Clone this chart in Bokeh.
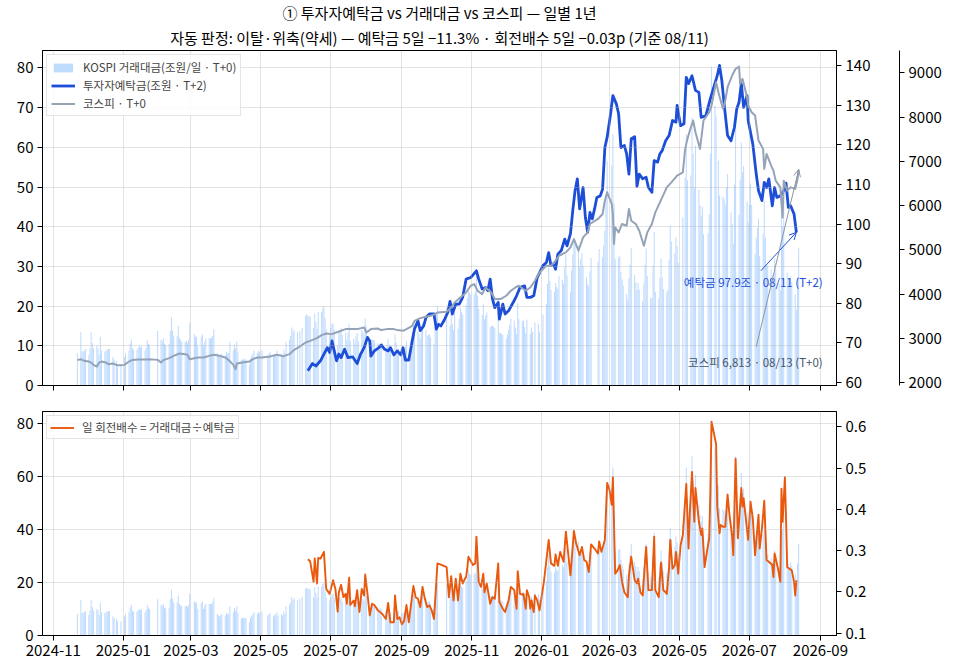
from datetime import datetime
import pandas as pd
from bokeh.plotting import figure
from bokeh.models import (Range1d, LinearAxis, FixedTicker, DatetimeTickFormatter, Title, Label,
                          Arrow, OpenHead, Legend, LegendItem, ColumnDataSource)
from bokeh.layouts import column
from bokeh.embed import file_html
from bokeh.resources import INLINE

FONT = "Noto Sans CJK KR"

# ---------------- data ----------------
title_line1 = "① 투자자예탁금 vs 거래대금 vs 코스피 — 일별 1년"
title_line2 = "자동 판정: 이탈·위축(약세) — 예탁금 5일 −11.3% · 회전배수 5일 −0.03p (기준 08/11)"

# daily KOSPI trading value (조원), one row per week Mon..Fri, None = no trading
vol_week_start = "2024-11-18"
vol_weeks = [
    [None, None, None, None, 8.1],
    [13.5, 8.6, 8.5, 8.8, 9.2],
    [7.7, 9.4, 13.5, 10.7, 9.4],
    [10.0, 9.4, 7.7, 12.3, 8.8],
    [8.5, 8.8, 9.0, 9.2, 9.2],
    [7.2, 6.6, None, 6.2, 5.4],
    [5.4, None, None, 7.2, 8.1],
    [8.8, 10.5, 11.6, 9.4, 9.0],
    [9.0, 9.5, 10.0, 9.6, 9.8],
    [8.8, 9.5, 11.4, 10.5, 10.0],
    [None, None, None, None, 13.7],
    [11.6, 11.1, 11.9, 10.5, 10.2],
    [10.5, 13.7, 17.2, 13.9, 12.4],
    [12.4, 15.0, 12.0, 11.4, 11.0],
    [11.0, 11.2, 10.8, 11.5, 15.7],
    [None, 13.0, 12.3, 12.3, 10.0],
    [12.3, 12.9, 10.0, 11.0, 11.9],
    [11.9, 11.9, 12.0, 12.5, 14.2],
    [8.1, 7.5, 7.2, 7.8, 8.0],
    [7.5, 8.5, 8.0, 8.2, 11.0],
    [8.8, 10.3, 9.4, 11.1, 8.5],
    [6.5, 6.5, 6.8, 6.5, 6.6],
    [5.2, 6.8, 7.5, 8.0, 8.8],
    [8.2, 8.8, 8.5, None, 9.0],
    [None, None, 7.5, 8.0, 8.5],
    [7.2, 8.0, 7.5, 8.8, 7.5],
    [8.0, 7.5, 9.0, 8.2, 11.0],
    [11.5, 12.5, 14.6, 13.4, 14.0],
    [13.4, None, 13.8, None, 14.5],
    [17.6, 18.0, 17.5, 17.6, 17.3],
    [14.5, 18.1, 16.0, 14.2, 18.5],
    [18.5, 19.4, 20.0, 17.0, 14.2],
    [13.2, 14.5, 15.5, 15.7, 14.1],
    [10.0, 13.4, 14.0, 14.4, 12.7],
    [13.3, 11.5, 13.3, 15.5, 11.2],
    [11.8, 10.8, 12.4, 13.2, 11.2],
    [14.0, 13.6, 13.1, 16.9, 14.9],
    [10.0, 10.7, 11.5, 11.5, 11.4],
    [10.6, 10.3, 10.2, 10.1, None],
    [9.1, 10.2, 11.8, 10.3, 8.7],
    [8.4, 12.9, 10.8, 9.1, 9.2],
    [8.2, 8.6, 8.7, 9.9, 11.0],
    [8.3, 11.4, 13.4, 15.4, 14.7],
    [13.8, 12.9, 11.9, 14.0, 15.8],
    [14.0, 12.5, 12.7, 12.9, 12.0],
    [10.4, 14.7, 18.5, 20.0, None],
    [None, None, None, None, 19.5],
    [15.0, 18.8, 15.5, 14.0, 18.5],
    [14.3, 16.8, 19.6, 18.6, 17.9],
    [20.3, 22.0, 24.6, 23.3, 22.9],
    [23.0, 23.6, 29.5, 22.6, 19.3],
    [17.7, 20.4, 16.7, 17.6, 18.4],
    [14.7, 14.9, 15.2, 14.8, 14.4],
    [21.6, 13.3, 13.2, 13.0, 12.7],
    [11.7, 12.8, 14.0, 15.3, 16.8],
    [16.4, 14.6, 13.0, 20.7, 16.7],
    [16.2, 16.4, 14.8, 13.2, 16.6],
    [13.0, 14.6, 13.5, None, 15.9],
    [15.6, 13.6, None, None, 17.9],
    [20.6, 25.6, 30.3, 26.4, 24.1],
    [23.6, 25.8, 24.9, 24.3, 27.5],
    [26.6, 25.7, 29.8, 33.0, 27.7],
    [23.4, 29.0, 33.0, 36.9, 35.8],
    [35.3, 30.0, 31.8, 33.4, 30.2],
    [27.3, 25.5, 24.9, 28.8, 32.1],
    [None, None, None, 31.1, 34.4],
    [32.3, 35.3, 38.9, 48.2, 56.6],
    [None, 55.5, 63.3, 46.0, 31.8],
    [32.2, 32.6, 28.6, 26.8, 25.1],
    [23.0, 21.5, 27.0, 30.4, 34.6],
    [27.8, 26.1, 24.1, 25.8, 24.2],
    [21.3, 25.7, 30.5, 34.5, 27.5],
    [22.1, 22.0, 30.2, 38.7, 23.6],
    [21.9, 27.0, 32.0, 27.3, 24.3],
    [23.5, 24.2, 31.6, 40.3, 36.3],
    [33.4, 37.3, 35.1, 31.0, None],
    [42.3, None, 52.4, 63.3, 51.7],
    [53.0, 67.5, 58.3, 49.8, 60.4],
    [49.3, 45.5, 42.9, 45.0, 38.1],
    [None, 38.3, 43.1, 58.4, 80.3],
    [70.5, 68.0, None, 56.6, 47.9],
    [47.6, 46.9, 45.6, 50.0, 53.3],
    [43.6, 40.7, 35.7, 50.6, 67.5],
    [43.1, 51.9, 61.2, 53.7, 55.3],
    [46.3, 41.1, 45.5, 50.9, 45.4],
    [33.2, 37.2, 39.6, 42.0, 32.6],
    [38.2, 46.5, 37.3, 30.2, 30.3],
    [29.2, 27.7, 25.3, 32.0, 29.2],
    [25.7, 24.0, 48.5, 40.0, 51.8],
    [28.5, 26.9, 25.0, 27.5, 26.1],
    [23.0, 19.1, 27.0, 34.6, None],
]

kospi_dates = [
    "2024-11-22", "2024-11-25", "2024-11-28", "2024-12-02", "2024-12-04", "2024-12-06", "2024-12-09",
    "2024-12-11", "2024-12-13", "2024-12-17", "2024-12-19", "2024-12-23", "2024-12-26", "2024-12-30",
    "2025-01-02", "2025-01-06", "2025-01-09", "2025-01-14", "2025-01-20", "2025-01-24", "2025-01-31",
    "2025-02-03", "2025-02-05", "2025-02-10", "2025-02-14", "2025-02-19", "2025-02-24", "2025-02-26",
    "2025-02-28", "2025-03-04", "2025-03-07", "2025-03-12", "2025-03-17", "2025-03-21", "2025-03-26",
    "2025-03-31", "2025-04-03", "2025-04-07", "2025-04-09", "2025-04-10", "2025-04-15", "2025-04-21",
    "2025-04-24", "2025-04-28", "2025-05-02", "2025-05-09", "2025-05-15", "2025-05-21", "2025-05-26",
    "2025-05-30", "2025-06-04", "2025-06-09", "2025-06-13", "2025-06-19", "2025-06-23", "2025-06-27",
    "2025-07-02", "2025-07-08", "2025-07-14", "2025-07-18", "2025-07-24", "2025-07-30", "2025-08-01",
    "2025-08-05", "2025-08-11", "2025-08-14", "2025-08-19", "2025-08-25", "2025-08-28", "2025-09-02",
    "2025-09-05", "2025-09-10", "2025-09-12", "2025-09-17", "2025-09-22", "2025-09-26", "2025-09-30",
    "2025-10-02", "2025-10-10", "2025-10-14", "2025-10-17", "2025-10-22", "2025-10-27", "2025-10-31",
    "2025-11-03", "2025-11-06", "2025-11-10", "2025-11-13", "2025-11-18", "2025-11-21", "2025-11-26",
    "2025-12-01", "2025-12-05", "2025-12-09", "2025-12-12", "2025-12-18", "2025-12-22", "2025-12-26",
    "2025-12-30", "2026-01-05", "2026-01-09", "2026-01-13", "2026-01-16", "2026-01-22", "2026-01-26",
    "2026-01-29", "2026-02-02", "2026-02-04", "2026-02-06", "2026-02-10", "2026-02-12", "2026-02-19",
    "2026-02-23", "2026-02-25", "2026-02-27", "2026-03-03", "2026-03-04", "2026-03-05", "2026-03-06",
    "2026-03-09", "2026-03-12", "2026-03-16", "2026-03-18", "2026-03-20", "2026-03-24", "2026-03-27",
    "2026-03-31", "2026-04-03", "2026-04-07", "2026-04-10", "2026-04-16", "2026-04-20", "2026-04-24",
    "2026-04-29", "2026-05-04", "2026-05-06", "2026-05-08", "2026-05-11", "2026-05-13", "2026-05-15",
    "2026-05-19", "2026-05-22", "2026-05-27", "2026-05-29", "2026-06-02", "2026-06-04", "2026-06-08",
    "2026-06-10", "2026-06-12", "2026-06-16", "2026-06-19", "2026-06-22", "2026-06-23", "2026-06-25",
    "2026-06-29", "2026-06-30", "2026-07-03", "2026-07-06", "2026-07-09", "2026-07-13", "2026-07-14",
    "2026-07-16", "2026-07-20", "2026-07-22", "2026-07-24", "2026-07-28", "2026-07-30", "2026-07-31",
    "2026-08-03", "2026-08-06", "2026-08-10", "2026-08-12", "2026-08-13",
]
kospi_vals = [
    2507, 2529, 2491, 2475, 2452, 2400, 2362, 2452, 2475, 2452, 2416, 2430, 2400, 2394,
    2400, 2475, 2513, 2520, 2520, 2529, 2513, 2452, 2507, 2552, 2604, 2656, 2642, 2627,
    2529, 2552, 2566, 2566, 2604, 2627, 2604, 2566, 2507, 2400, 2303, 2430, 2452, 2475,
    2529, 2566, 2566, 2588, 2627, 2597, 2642, 2740, 2815, 2905, 2943, 3005, 3072, 3109,
    3095, 3154, 3208, 3208, 3208, 3244, 3131, 3208, 3222, 3186, 3208, 3208, 3186, 3170,
    3208, 3283, 3396, 3457, 3486, 3509, 3548, 3584, 3600, 3697, 3810, 3923, 4036, 4188,
    4226, 4075, 4000, 4149, 4036, 3887, 3887, 3962, 4075, 4149, 4188, 4075, 4149, 4301,
    4489, 4640, 4640, 4753, 4866, 4941, 5054, 5244, 4980, 5131, 5281, 5394, 5584, 5697,
    5810, 6111, 6299, 6036, 5810, 5131, 5507, 5394, 5584, 5545, 5923, 5658, 5584, 5432,
    5093, 5394, 5584, 5846, 6186, 6412, 6525, 6676, 6751, 7281, 7507, 7769, 7921, 7656,
    7281, 7921, 8109, 8260, 8787, 8561, 8186, 8373, 8674, 8939, 9090, 9142, 8751, 8864,
    8448, 8260, 8109, 8034, 7468, 7281, 6828, 7167, 6903, 6790, 6563, 6412, 5733, 6563,
    6337, 6412, 6376, 6602, 6813,
]

dep_dates = [
    "2025-06-11", "2025-06-15", "2025-06-18", "2025-06-22", "2025-06-25", "2025-06-28", "2025-06-30",
    "2025-07-02", "2025-07-04", "2025-07-06", "2025-07-08", "2025-07-10", "2025-07-13", "2025-07-16",
    "2025-07-20", "2025-07-24", "2025-07-27", "2025-07-30", "2025-08-02", "2025-08-04", "2025-08-05",
    "2025-08-08", "2025-08-12", "2025-08-14", "2025-08-17", "2025-08-20", "2025-08-22", "2025-08-25",
    "2025-08-28", "2025-08-31", "2025-09-02", "2025-09-04", "2025-09-07", "2025-09-10", "2025-09-12",
    "2025-09-15", "2025-09-17", "2025-09-20", "2025-09-22", "2025-09-25", "2025-09-29", "2025-10-01",
    "2025-10-03", "2025-10-05", "2025-10-08", "2025-10-11", "2025-10-13", "2025-10-15", "2025-10-18",
    "2025-10-21", "2025-10-24", "2025-10-27", "2025-10-31", "2025-11-05", "2025-11-07", "2025-11-10",
    "2025-11-13", "2025-11-15", "2025-11-17", "2025-11-19", "2025-11-21", "2025-11-24", "2025-11-25",
    "2025-11-28", "2025-11-30", "2025-12-03", "2025-12-07", "2025-12-10", "2025-12-13", "2025-12-17",
    "2025-12-19", "2025-12-22", "2025-12-25", "2025-12-28", "2026-01-02", "2026-01-05", "2026-01-07",
    "2026-01-09", "2026-01-11", "2026-01-13", "2026-01-15", "2026-01-18", "2026-01-21", "2026-01-23",
    "2026-01-26", "2026-01-28", "2026-01-30", "2026-02-01", "2026-02-03", "2026-02-06", "2026-02-08",
    "2026-02-10", "2026-02-12", "2026-02-14", "2026-02-16", "2026-02-18", "2026-02-21", "2026-02-23",
    "2026-02-25", "2026-02-27", "2026-03-02", "2026-03-04", "2026-03-07", "2026-03-09", "2026-03-11",
    "2026-03-14", "2026-03-16", "2026-03-18", "2026-03-20", "2026-03-23", "2026-03-25", "2026-03-27",
    "2026-03-30", "2026-04-02", "2026-04-04", "2026-04-07", "2026-04-09", "2026-04-12", "2026-04-14",
    "2026-04-16", "2026-04-19", "2026-04-22", "2026-04-25", "2026-04-28", "2026-04-29", "2026-05-02",
    "2026-05-05", "2026-05-07", "2026-05-09", "2026-05-12", "2026-05-15", "2026-05-18", "2026-05-20",
    "2026-05-24", "2026-05-28", "2026-05-31", "2026-06-03", "2026-06-05", "2026-06-07", "2026-06-09",
    "2026-06-12", "2026-06-15", "2026-06-18", "2026-06-20", "2026-06-22", "2026-06-24", "2026-06-26",
    "2026-06-29", "2026-06-30", "2026-07-04", "2026-07-07", "2026-07-09", "2026-07-12", "2026-07-14",
    "2026-07-16", "2026-07-18", "2026-07-21", "2026-07-23", "2026-07-25", "2026-07-28", "2026-07-31",
    "2026-08-02", "2026-08-04", "2026-08-06", "2026-08-09", "2026-08-11",
]
dep_vals = [
    63.0, 64.8, 64.2, 65.5, 67.2, 68.8, 67.6, 70.5, 68.0, 65.5, 67.2, 66.3, 68.4, 66.3,
    66.5, 64.8, 67.2, 68.8, 71.4, 70.5, 66.7, 68.0, 68.8, 69.5, 68.4, 68.0, 68.8, 67.0,
    68.0, 67.0, 68.8, 65.7, 65.7, 70.5, 73.5, 75.6, 73.1, 74.3, 76.4, 77.3, 77.3, 73.5,
    74.7, 74.3, 75.8, 77.7, 80.5, 77.3, 79.8, 79.8, 81.5, 86.1, 86.5, 88.2, 86.1, 83.6,
    84.0, 83.2, 86.1, 81.1, 78.9, 80.2, 76.0, 79.8, 77.3, 78.1, 80.2, 81.9, 84.0, 84.4,
    81.5, 81.5, 81.9, 86.5, 89.5, 90.3, 92.8, 89.5, 89.9, 88.6, 92.4, 93.3, 96.2, 94.5,
    97.6, 103.4, 108.4, 111.4, 103.8, 109.2, 101.7, 97.9, 102.9, 101.3, 103.8, 106.7, 107.1, 108.8,
    119.3, 121.9, 127.8, 132.4, 130.3, 127.8, 119.3, 119.8, 117.7, 112.6, 121.5, 122.0, 109.5, 112.6,
    111.4, 111.8, 109.2, 108.0, 116.0, 115.6, 117.7, 118.5, 121.0, 122.3, 126.1, 125.7, 129.9, 124.8,
    125.3, 137.0, 135.4, 137.4, 133.7, 133.2, 126.9, 127.3, 131.6, 134.5, 137.4, 140.0, 136.2, 130.3,
    122.3, 121.0, 124.4, 129.0, 130.7, 135.4, 129.4, 132.4, 126.1, 120.2, 112.6, 108.4, 105.9, 110.5,
    109.2, 111.4, 104.6, 109.2, 106.7, 107.1, 108.4, 110.3, 104.2, 104.6, 102.5, 97.9,
]

ratio_dates = [
    "2025-06-11", "2025-06-13", "2025-06-16", "2025-06-17", "2025-06-19", "2025-06-20", "2025-06-22",
    "2025-06-25", "2025-06-27", "2025-06-30", "2025-07-03", "2025-07-05", "2025-07-07", "2025-07-08",
    "2025-07-10", "2025-07-12", "2025-07-14", "2025-07-15", "2025-07-17", "2025-07-18", "2025-07-21",
    "2025-07-22", "2025-07-24", "2025-07-26", "2025-07-28", "2025-07-30", "2025-07-31", "2025-08-02",
    "2025-08-04", "2025-08-06", "2025-08-08", "2025-08-11", "2025-08-15", "2025-08-18", "2025-08-20",
    "2025-08-22", "2025-08-25", "2025-08-26", "2025-08-28", "2025-08-30", "2025-09-01", "2025-09-03",
    "2025-09-05", "2025-09-07", "2025-09-11", "2025-09-13", "2025-09-15", "2025-09-17", "2025-09-19",
    "2025-09-21", "2025-09-23", "2025-09-25", "2025-09-27", "2025-09-29", "2025-10-02", "2025-10-05",
    "2025-10-10", "2025-10-12", "2025-10-14", "2025-10-16", "2025-10-18", "2025-10-20", "2025-10-22",
    "2025-10-24", "2025-10-26", "2025-10-27", "2025-10-28", "2025-10-29", "2025-11-02", "2025-11-04",
    "2025-11-05", "2025-11-07", "2025-11-09", "2025-11-11", "2025-11-12", "2025-11-14", "2025-11-17",
    "2025-11-19", "2025-11-21", "2025-11-24", "2025-11-25", "2025-11-28", "2025-11-30", "2025-12-03",
    "2025-12-05", "2025-12-08", "2025-12-10", "2025-12-11", "2025-12-13", "2025-12-15", "2025-12-16",
    "2025-12-18", "2025-12-19", "2025-12-21", "2025-12-22", "2025-12-23", "2025-12-25", "2025-12-26",
    "2025-12-28", "2025-12-30", "2026-01-03", "2026-01-07", "2026-01-09", "2026-01-12", "2026-01-13",
    "2026-01-15", "2026-01-17", "2026-01-20", "2026-01-22", "2026-01-24", "2026-01-26", "2026-01-29",
    "2026-01-31", "2026-02-03", "2026-02-05", "2026-02-07", "2026-02-09", "2026-02-11", "2026-02-13",
    "2026-02-16", "2026-02-19", "2026-02-20", "2026-02-22", "2026-02-25", "2026-02-27", "2026-03-01",
    "2026-03-03", "2026-03-04", "2026-03-06", "2026-03-08", "2026-03-10", "2026-03-12", "2026-03-14",
    "2026-03-17", "2026-03-18", "2026-03-20", "2026-03-23", "2026-03-25", "2026-03-26", "2026-03-28",
    "2026-03-30", "2026-04-01", "2026-04-02", "2026-04-04", "2026-04-07", "2026-04-09", "2026-04-10",
    "2026-04-13", "2026-04-15", "2026-04-17", "2026-04-19", "2026-04-20", "2026-04-22", "2026-04-23",
    "2026-04-25", "2026-04-27", "2026-04-28", "2026-04-30", "2026-05-02", "2026-05-04", "2026-05-07",
    "2026-05-09", "2026-05-10", "2026-05-12", "2026-05-14", "2026-05-15", "2026-05-18", "2026-05-20",
    "2026-05-21", "2026-05-23", "2026-05-25", "2026-05-27", "2026-05-28", "2026-05-29", "2026-05-31",
    "2026-06-02", "2026-06-03", "2026-06-05", "2026-06-06", "2026-06-08", "2026-06-10", "2026-06-12",
    "2026-06-14", "2026-06-16", "2026-06-17", "2026-06-19", "2026-06-21", "2026-06-24", "2026-06-25",
    "2026-06-26", "2026-06-29", "2026-06-30", "2026-07-02", "2026-07-04", "2026-07-06", "2026-07-09",
    "2026-07-10", "2026-07-12", "2026-07-14", "2026-07-16", "2026-07-18", "2026-07-21", "2026-07-22",
    "2026-07-23", "2026-07-26", "2026-07-28", "2026-07-29", "2026-07-30", "2026-08-01", "2026-08-02",
    "2026-08-03", "2026-08-05", "2026-08-07", "2026-08-09", "2026-08-10", "2026-08-11",
]
ratio_vals = [
    0.279, 0.274, 0.224, 0.281, 0.220, 0.282, 0.281, 0.297, 0.207, 0.195, 0.228, 0.207, 0.152, 0.199,
    0.217, 0.187, 0.195, 0.171, 0.234, 0.168, 0.179, 0.165, 0.204, 0.151, 0.207, 0.191, 0.242, 0.195,
    0.143, 0.171, 0.168, 0.155, 0.146, 0.134, 0.173, 0.126, 0.126, 0.191, 0.134, 0.138, 0.121, 0.130,
    0.168, 0.126, 0.214, 0.187, 0.183, 0.163, 0.212, 0.183, 0.163, 0.167, 0.155, 0.134, 0.269, 0.266,
    0.260, 0.187, 0.238, 0.179, 0.232, 0.179, 0.244, 0.220, 0.232, 0.236, 0.256, 0.285, 0.265, 0.269,
    0.334, 0.224, 0.212, 0.244, 0.199, 0.220, 0.171, 0.187, 0.183, 0.269, 0.175, 0.159, 0.151, 0.179,
    0.212, 0.204, 0.159, 0.250, 0.195, 0.193, 0.195, 0.159, 0.204, 0.187, 0.159, 0.179, 0.151, 0.191,
    0.179, 0.155, 0.228, 0.326, 0.269, 0.263, 0.291, 0.263, 0.297, 0.273, 0.346, 0.293, 0.240, 0.348,
    0.317, 0.289, 0.309, 0.277, 0.273, 0.248, 0.315, 0.305, 0.293, 0.322, 0.297, 0.326, 0.464, 0.448,
    0.411, 0.478, 0.244, 0.252, 0.265, 0.224, 0.199, 0.187, 0.240, 0.285, 0.228, 0.220, 0.232, 0.199,
    0.191, 0.273, 0.309, 0.204, 0.204, 0.334, 0.204, 0.187, 0.271, 0.204, 0.199, 0.195, 0.258, 0.326,
    0.256, 0.265, 0.297, 0.244, 0.313, 0.338, 0.462, 0.305, 0.387, 0.491, 0.370, 0.452, 0.370, 0.338,
    0.354, 0.260, 0.297, 0.330, 0.444, 0.613, 0.586, 0.558, 0.407, 0.342, 0.362, 0.358, 0.358, 0.436,
    0.378, 0.334, 0.289, 0.523, 0.330, 0.452, 0.407, 0.427, 0.350, 0.326, 0.419, 0.378, 0.289, 0.387,
    0.305, 0.354, 0.421, 0.277, 0.273, 0.265, 0.236, 0.293, 0.256, 0.224, 0.450, 0.370, 0.478, 0.378,
    0.260, 0.256, 0.252, 0.224, 0.191, 0.228,
]

tick_months = ["2024-11-01", "2025-01-01", "2025-03-01", "2025-05-01", "2025-07-01", "2025-09-01",
               "2025-11-01", "2026-01-01", "2026-03-01", "2026-05-01", "2026-07-01", "2026-09-01"]
left_ticks_top = [0, 10, 20, 30, 40, 50, 60, 70, 80]
left_ticks_bot = [0, 20, 40, 60, 80]
dep_ticks = [60, 70, 80, 90, 100, 110, 120, 130, 140]
kospi_ticks = [2000, 3000, 4000, 5000, 6000, 7000, 8000, 9000]
ratio_ticks = [0.1, 0.2, 0.3, 0.4, 0.5, 0.6]

# ---------------- build sources ----------------
start = pd.Timestamp(vol_week_start)
bar_d, bar_v = [], []
for i, wk in enumerate(vol_weeks):
    for j, v in enumerate(wk):
        if v is not None:
            bar_d.append(start + pd.Timedelta(days=7 * i + j))
            bar_v.append(v)
bar_src = ColumnDataSource(dict(date=bar_d, vol=bar_v))
kospi_src = ColumnDataSource(dict(date=pd.to_datetime(kospi_dates), v=kospi_vals))
dep_src = ColumnDataSource(dict(date=pd.to_datetime(dep_dates), v=dep_vals))
ratio_src = ColumnDataSource(dict(date=pd.to_datetime(ratio_dates), v=ratio_vals))

month_ms = [pd.Timestamp(t).timestamp() * 1000 for t in tick_months]

BAR_C = "#bfdbfe"
DEP_C = "#1d4ed8"
KOS_C = "#94a3b8"
RAT_C = "#ea580c"
DAY_MS = 86400000

xr = Range1d(start=datetime(2024, 10, 22, 14), end=datetime(2026, 9, 15))


def style_axis(ax, size="15px"):
    ax.axis_line_color = "black"
    ax.axis_line_width = 1
    ax.major_tick_line_color = "black"
    ax.major_tick_line_width = 1
    ax.major_tick_out = 5
    ax.major_tick_in = 0
    ax.minor_tick_line_color = None
    ax.major_label_text_font = FONT
    ax.major_label_text_font_size = size
    ax.major_label_text_color = "black"
    ax.major_label_standoff = 4


def style_fig(p, yticks):
    p.outline_line_color = "black"
    p.outline_line_width = 1
    p.xaxis.ticker = FixedTicker(ticks=month_ms)
    p.xaxis.formatter = DatetimeTickFormatter(days="%Y-%m", months="%Y-%m", years="%Y-%m")
    p.yaxis.ticker = FixedTicker(ticks=yticks)
    p.xgrid.ticker = FixedTicker(ticks=month_ms)
    p.ygrid.ticker = FixedTicker(ticks=yticks)
    for g in (p.xgrid, p.ygrid):
        g.grid_line_color = "#b0b0b0"
        g.grid_line_alpha = 0.35
        g.grid_line_width = 1
        g.level = "glyph"
    for ax in (p.xaxis + p.yaxis):
        style_axis(ax)


# ---------------- top panel ----------------
p1 = figure(x_axis_type="datetime", x_range=xr, y_range=Range1d(0, 84.4),
            frame_width=794, frame_height=335, output_backend="svg", toolbar_location=None,
            min_border_left=42, min_border_right=2, min_border_top=0, min_border_bottom=12)
p1.title.visible = False
style_fig(p1, left_ticks_top)
p1.xaxis.major_label_text_color = None
p1.xaxis.major_label_standoff = 0

p1.add_layout(Title(text=title_line2, align="center", text_font=FONT, text_font_size="15px",
                    text_font_style="normal", text_color="black", standoff=5), "above")
p1.add_layout(Title(text=title_line1, align="center", text_font=FONT, text_font_size="15px",
                    text_font_style="normal", text_color="black", standoff=-1), "above")

p1.extra_y_ranges = {"dep": Range1d(59.27, 143.76), "kospi": Range1d(1934, 9504)}
ax_dep = LinearAxis(y_range_name="dep", ticker=FixedTicker(ticks=dep_ticks), axis_label=" ",
                    axis_label_standoff=12, axis_label_text_font_size="10px")
style_axis(ax_dep)
p1.add_layout(ax_dep, "right")
ax_k = LinearAxis(y_range_name="kospi", ticker=FixedTicker(ticks=kospi_ticks))
style_axis(ax_k)
p1.add_layout(ax_k, "right")

r_bar1 = p1.vbar(x="date", top="vol", width=0.9 * DAY_MS, source=bar_src, fill_color=BAR_C,
                 line_color=None, level="underlay")
r_dep = p1.line(x="date", y="v", source=dep_src, y_range_name="dep", line_color=DEP_C,
                line_width=2.8, line_join="round")
r_kos = p1.line(x="date", y="v", source=kospi_src, y_range_name="kospi", line_color=KOS_C,
                line_width=2.0, line_join="round")

leg1 = Legend(items=[LegendItem(label="KOSPI 거래대금(조원/일 · T+0)", renderers=[r_bar1]),
                     LegendItem(label="투자자예탁금(조원 · T+2)", renderers=[r_dep]),
                     LegendItem(label="코스피 · T+0", renderers=[r_kos])],
              location="top_left", label_text_font=FONT, label_text_font_size="11.5px",
              border_line_color="#cccccc", border_line_width=1, background_fill_alpha=0.85,
              padding=4, spacing=2, margin=4, glyph_width=24, glyph_height=11,
              label_height=13, label_standoff=8)
p1.add_layout(leg1)

# annotations
p1.add_layout(Label(x=datetime(2026, 9, 3), y=85.4, y_range_name="dep",
                    text="예탁금 97.9조 · 08/11 (T+2)", text_align="right", text_baseline="middle",
                    text_font=FONT, text_font_size="11.5px", text_color=DEP_C))
p1.add_layout(Arrow(end=OpenHead(size=7, line_color=DEP_C, line_width=1),
                    x_start=datetime(2026, 7, 11), y_start=88.2,
                    x_end=pd.Timestamp(dep_dates[-1]), y_end=dep_vals[-1],
                    y_range_name="dep", line_color=DEP_C, line_width=1))
p1.add_layout(Label(x=datetime(2026, 9, 3), y=65.2, y_range_name="dep",
                    text="코스피 6,813 · 08/13 (T+0)", text_align="right", text_baseline="middle",
                    text_font=FONT, text_font_size="11.5px", text_color="#475569"))
p1.add_layout(Arrow(end=OpenHead(size=7, line_color="#8c96a3", line_width=1),
                    x_start=datetime(2026, 7, 7), y_start=2808,
                    x_end=pd.Timestamp(kospi_dates[-1]), y_end=kospi_vals[-1],
                    y_range_name="kospi", line_color="#8c96a3", line_width=1))

# ---------------- bottom panel ----------------
p2 = figure(x_axis_type="datetime", x_range=xr, y_range=Range1d(0, 84.4),
            frame_width=794, frame_height=224, output_backend="svg", toolbar_location=None,
            min_border_left=42, min_border_right=2, min_border_top=14, min_border_bottom=0)
p2.title.visible = False
style_fig(p2, left_ticks_bot)
p2.extra_y_ranges = {"ratio": Range1d(0.094, 0.6376)}
ax_r = LinearAxis(y_range_name="ratio", ticker=FixedTicker(ticks=ratio_ticks))
style_axis(ax_r)
p2.add_layout(ax_r, "right")

p2.vbar(x="date", top="vol", width=0.9 * DAY_MS, source=bar_src, fill_color=BAR_C,
        line_color=None, level="underlay")
r_rat = p2.line(x="date", y="v", source=ratio_src, y_range_name="ratio", line_color=RAT_C,
                line_width=1.9, line_join="round")
leg2 = Legend(items=[LegendItem(label="일 회전배수 = 거래대금÷예탁금", renderers=[r_rat])],
              location="top_left", label_text_font=FONT, label_text_font_size="11.5px",
              border_line_color="#cccccc", border_line_width=1, background_fill_alpha=0.85,
              padding=3, spacing=3, margin=4, glyph_width=24, glyph_height=11,
              label_height=13, label_standoff=8)
p2.add_layout(leg2)

layout = column(p1, p2, spacing=0)
with open("out.html", "w") as f:
    f.write(file_html(layout, INLINE))
